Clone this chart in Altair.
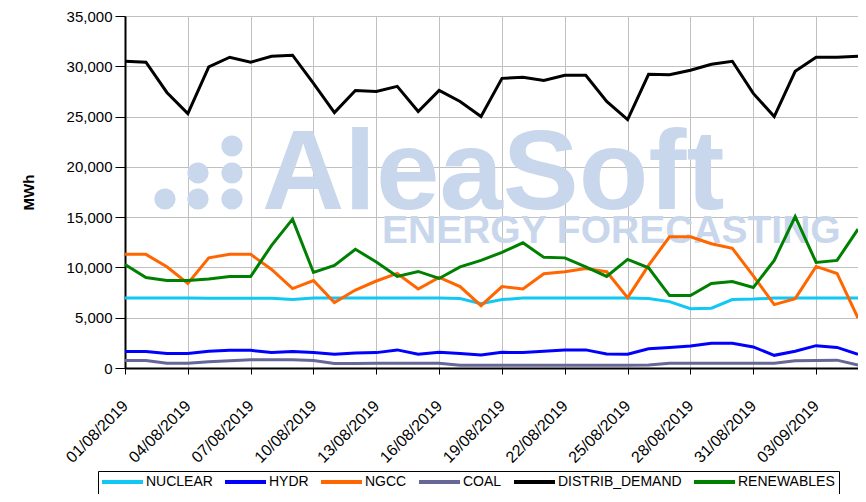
import altair as alt
import pandas as pd

dates = [
    "01/08/2019", "02/08/2019", "03/08/2019", "04/08/2019", "05/08/2019", "06/08/2019",
    "07/08/2019", "08/08/2019", "09/08/2019", "10/08/2019", "11/08/2019", "12/08/2019",
    "13/08/2019", "14/08/2019", "15/08/2019", "16/08/2019", "17/08/2019", "18/08/2019",
    "19/08/2019", "20/08/2019", "21/08/2019", "22/08/2019", "23/08/2019", "24/08/2019",
    "25/08/2019", "26/08/2019", "27/08/2019", "28/08/2019", "29/08/2019", "30/08/2019",
    "31/08/2019", "01/09/2019", "02/09/2019", "03/09/2019", "04/09/2019", "05/09/2019",
]
tick_labels = [
    "01/08/2019", "04/08/2019", "07/08/2019", "10/08/2019", "13/08/2019", "16/08/2019",
    "19/08/2019", "22/08/2019", "25/08/2019", "28/08/2019", "31/08/2019", "03/09/2019",
]

nuclear = [6950, 6950, 6950, 6950, 6940, 6940, 6940, 6940, 6800, 6950, 6950, 6950,
           6950, 6950, 6960, 6950, 6900, 6400, 6800, 6950, 6950, 6950, 6960, 6960,
           6950, 6900, 6600, 5900, 5950, 6800, 6850, 6950, 6950, 6960, 6960, 6960]
hydr = [1630, 1630, 1430, 1450, 1660, 1760, 1760, 1530, 1630, 1530, 1360, 1500,
        1530, 1800, 1360, 1560, 1430, 1300, 1560, 1530, 1660, 1800, 1800, 1400,
        1360, 1920, 2050, 2190, 2450, 2450, 2090, 1260, 1660, 2220, 2050, 1360]
ngcc = [11300, 11300, 10060, 8400, 10950, 11300, 11300, 9800, 7900, 8700, 6500, 7750,
        8650, 9400, 7860, 9000, 8100, 6200, 8100, 7860, 9370, 9570, 9900, 9570,
        7000, 10200, 13050, 13050, 12360, 11900, 9170, 6300, 6900, 10100, 9400, 4960]
coal = [740, 740, 480, 480, 610, 710, 810, 810, 810, 740, 450, 450,
        480, 480, 480, 480, 280, 280, 280, 280, 280, 280, 280, 280,
        280, 300, 480, 480, 480, 480, 480, 480, 710, 740, 780, 300]
distrib_demand = [30500, 30400, 27400, 25300, 29950, 30900, 30400, 31000, 31100, 28300, 25400, 27600,
                  27500, 28000, 25500, 27600, 26500, 25000, 28800, 28900, 28600, 29100, 29100, 26500,
                  24700, 29200, 29150, 29600, 30200, 30500, 27300, 25000, 29500, 30900, 30900, 31000]
renewables = [10300, 9000, 8700, 8700, 8850, 9100, 9100, 12200, 14800, 9500, 10200, 11800,
              10550, 9100, 9600, 8900, 10060, 10700, 11500, 12450, 11000, 10950, 10060, 9100,
              10800, 9960, 7200, 7200, 8400, 8600, 8000, 10700, 15060, 10500, 10700, 13800]

series_names = ["NUCLEAR", "HYDR", "NGCC", "COAL", "DISTRIB_DEMAND", "RENEWABLES"]
series_colors = ["#11c8f5", "#0000ff", "#ff6600", "#666699", "#000000", "#008000"]
series_values = [nuclear, hydr, ngcc, coal, distrib_demand, renewables]

rows = []
for name, vals in zip(series_names, series_values):
    for i, (d, v) in enumerate(zip(dates, vals)):
        rows.append({"date": d, "idx": i, "series": name, "MWh": v})
df = pd.DataFrame(rows)

FONT = "Liberation Sans"
WM = "#c9d7ec"
one_row = "datum.idx == 0 && datum.series == 'NUCLEAR'"

# watermark (decorative logo)
dot_px = [(40, 183), (73, 157), (73, 183), (107, 130), (107, 157), (107, 183)]
wm_layers = []
for (px, py) in dot_px:
    wm_layers.append(
        alt.Chart(df).mark_point(filled=True, shape="circle", size=450, color=WM, opacity=1)
        .encode(x=alt.value(px), y=alt.value(py))
        .transform_filter(one_row)
    )
wm_layers.append(
    alt.Chart(df).mark_text(text="AleaSoft", font=FONT, fontWeight="bold", fontSize=114,
                            color=WM, align="left", baseline="alphabetic")
    .encode(x=alt.value(137), y=alt.value(193))
    .transform_filter(one_row)
)
wm_layers.append(
    alt.Chart(df).mark_text(text="ENERGY FORECASTING", font=FONT, fontWeight="bold", fontSize=39,
                            color=WM, align="left", baseline="alphabetic")
    .encode(x=alt.value(257), y=alt.value(227))
    .transform_filter(one_row)
)

lines = alt.Chart(df).mark_line(strokeWidth=3).encode(
    x=alt.X("date:N", sort=dates, title=None,
            scale=alt.Scale(type="point", padding=0),
            axis=alt.Axis(values=tick_labels, labelAngle=-45, labelAlign="right",
                          labelBaseline="middle", labelPadding=29, tickSize=6,
                          labelFontSize=16, labelFont=FONT, labelColor="black",
                          grid=True, gridColor="#c0c0c0", gridWidth=1,
                          domainColor="black", domainWidth=2, tickColor="black",
                          labelOverlap=False)),
    y=alt.Y("MWh:Q", title="MWh",
            scale=alt.Scale(domain=[0, 35000], nice=False, zero=True),
            axis=alt.Axis(values=[0, 5000, 10000, 15000, 20000, 25000, 30000, 35000],
                          format=",.0f", labelFontSize=15, labelFont=FONT, labelColor="black",
                          tickSize=10, labelPadding=3, titleFont=FONT, titleFontSize=15,
                          titleFontWeight="bold", titleColor="black", titlePadding=30,
                          grid=True, gridColor="#c0c0c0", gridWidth=1,
                          domainColor="black", domainWidth=2, tickColor="black")),
    color=alt.Color("series:N", sort=series_names,
                    scale=alt.Scale(domain=series_names, range=series_colors),
                    legend=alt.Legend(title=None, orient="none", legendX=-27, legendY=455,
                                      direction="horizontal", symbolType="M-1.4,0H6.8",
                                      symbolSize=100, symbolStrokeWidth=4, labelOffset=30,
                                      labelFontSize=14, labelFont=FONT, labelColor="black",
                                      strokeColor="black", fillColor="white", padding=4,
                                      columnPadding=4, labelLimit=0)),
    order=alt.Order("idx:Q"),
)

chart = alt.layer(*wm_layers, lines).properties(
    width=733, height=352,
    autosize=alt.AutoSizeParams(type="none"),
    padding={"left": 117, "top": 8, "right": 0, "bottom": 126},
).configure_view(stroke="black", strokeWidth=1.5).configure(background="white")

chart.save("out.html", embed_options={"renderer": "svg", "actions": False})
